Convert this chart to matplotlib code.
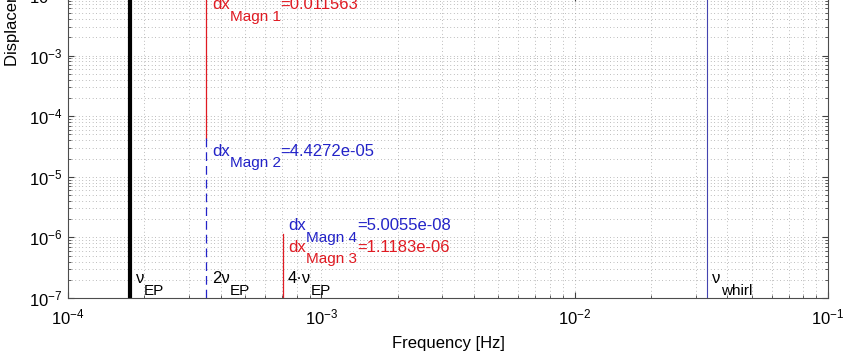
import matplotlib
matplotlib.use("Agg")
import matplotlib.pyplot as plt
import numpy as np
from matplotlib.ticker import LogLocator, NullFormatter

plt.rcParams['font.family'] = ['Liberation Sans', 'DejaVu Sans']
plt.rcParams['mathtext.fontset'] = 'custom'
plt.rcParams['mathtext.rm'] = 'Liberation Sans'
plt.rcParams['mathtext.it'] = 'Liberation Sans:italic'

# frequencies [Hz]
nu_EP = 1.76e-4
harmonics = [1, 2, 4]
nu_whirl = 0.0333

# displacement magnitudes [m]
dx_magn = [0.011563, 4.4272e-05, 1.1183e-06, 5.0055e-08]
dx_labels = ['0.011563', '4.4272e-05', '1.1183e-06', '5.0055e-08']

xlim = (1e-4, 1e-1)
ylim = (1e-7, 1e-2)

red = '#e01a22'
blue = '#2323c8'

fig = plt.figure(figsize=(8.5, 3.51), dpi=100)
# axes top runs past the figure edge (reference is cropped)
ax = fig.add_axes([68/850, 53/351, 760/850, 303/351])
ax.set_xscale('log')
ax.set_yscale('log')
ax.set_xlim(*xlim)
ax.set_ylim(*ylim)

ax.grid(True, which='both', ls=(0, (1, 4)), lw=0.5, color='0.5')
ax.set_axisbelow(True)

# harmonic lines
f1, f2, f4 = [h * nu_EP for h in harmonics]
ax.axvline(f1, color='black', lw=3)
ax.plot([f2, f2], [dx_magn[1], dx_magn[0]], color=red, lw=0.9)
ax.plot([f2, f2], [ylim[0], dx_magn[1]], color=blue, lw=0.9, ls=(0, (7, 4)))
ax.plot([f4, f4], [dx_magn[3], dx_magn[2]], color=red, lw=0.9)
ax.plot([f4, f4], [ylim[0], dx_magn[3]], color=blue, lw=0.9, ls=(0, (7, 4)))
ax.axvline(nu_whirl, color='#4444b0', lw=0.8)


def sub_text(x, y, main, sub, tail, color, fs=12, sfs=11, drop=8.5):
    t0 = ax.text(x, y, main, color=color, fontsize=fs, ha='left', va='center')
    t1 = ax.annotate(sub, xy=(1, 0), xycoords=t0, xytext=(0, -drop),
                     textcoords='offset points', color=color, fontsize=sfs,
                     ha='left', va='bottom')
    if tail:
        ax.annotate(tail, xy=(1, 0), xycoords=(t1, t0), color=color,
                    fontsize=fs, ha='left', va='bottom')


sub_text(f2 * 1.05, dx_magn[0] * 0.6, 'dx', 'Magn 1', '=' + dx_labels[0], red)
sub_text(f2 * 1.05, dx_magn[1] * 0.6, 'dx', 'Magn 2', '=' + dx_labels[1], blue)
sub_text(f4 * 1.05, dx_magn[2] * 0.62, 'dx', 'Magn 3', '=' + dx_labels[2], red)
sub_text(f4 * 1.05, dx_magn[2] * 1.4, 'dx', 'Magn 4', '=' + dx_labels[3], blue)

ylab = 2.1e-7
sub_text(f1 * 1.05, ylab, 'ν', 'EP', '', 'black')
sub_text(f2 * 1.05, ylab, '2ν', 'EP', '', 'black')
sub_text(f4 * 1.05, ylab, '4·ν', 'EP', '', 'black')
sub_text(nu_whirl * 1.05, ylab, 'ν', 'whirl', '', 'black')

for axis in (ax.xaxis, ax.yaxis):
    axis.set_major_locator(LogLocator(base=10, numticks=100))
    axis.set_minor_locator(LogLocator(base=10, subs=np.arange(2, 10), numticks=100))
    axis.set_minor_formatter(NullFormatter())

ax.tick_params(which='both', direction='in', top=True, right=True,
               color='0.25', labelsize=12)
ax.tick_params(which='major', length=4)
ax.tick_params(which='minor', length=2)
ax.tick_params(axis='x', pad=7)
ax.tick_params(axis='y', pad=4)
for s in ax.spines.values():
    s.set_color('0.3')
    s.set_linewidth(0.8)

ax.set_xlabel('Frequency [Hz]', fontsize=12, labelpad=6)
ax.set_ylabel('Displacement [m]', fontsize=12, ha='left')
ax.yaxis.set_label_coords(-0.063, 0.766)

fig.savefig('out.png', dpi=100)
